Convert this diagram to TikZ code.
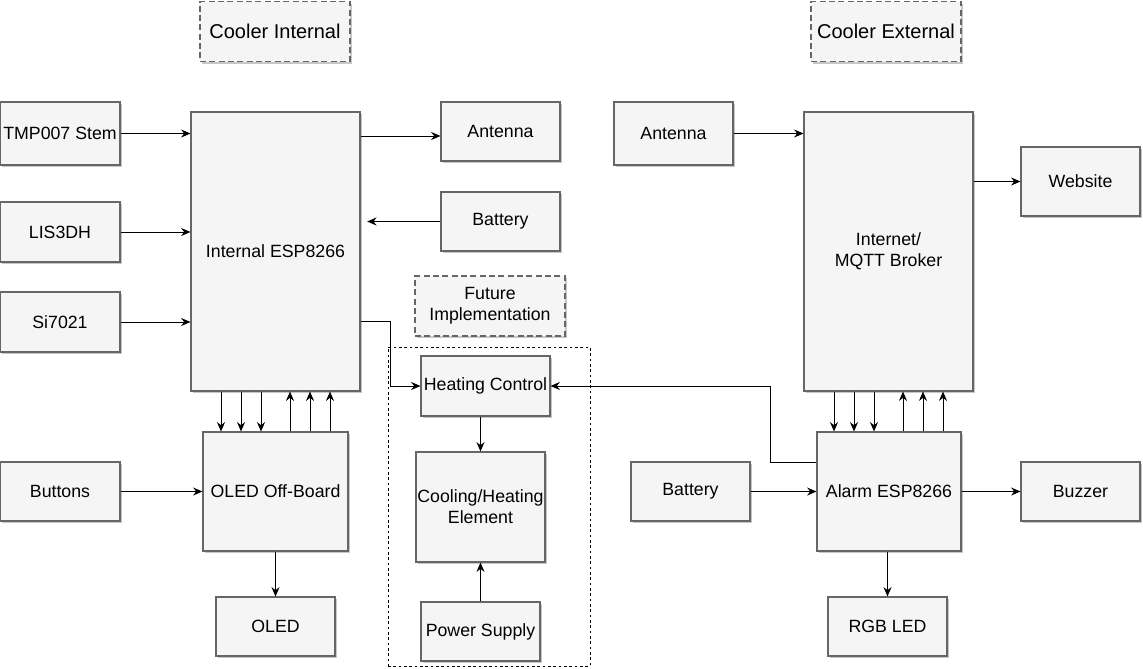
\documentclass[tikz,border=0pt]{standalone}
\usepackage{fontspec}
\setmainfont{Liberation Sans}
\usetikzlibrary{arrows.meta,shadows}

\definecolor{boxfill}{HTML}{F5F5F5}
\definecolor{boxline}{HTML}{666666}

\tikzset{
  blk/.style 2 args={draw=boxline, fill=boxfill, line width=0.8pt,
    minimum width=#1*0.75pt, minimum height=#2*0.75pt, inner sep=1pt,
    align=center, font=\fontsize{13.3}{15.8}\selectfont,
    drop shadow={shadow xshift=1.6pt, shadow yshift=-1.6pt, fill=black, opacity=0.22}},
  titlebox/.style={dash pattern=on 4.5pt off 2.5pt, line width=1.2pt},
  wire/.style={line width=0.75pt, -{Stealth[length=7pt,width=6pt]}},
  plain/.style={line width=0.75pt}
}

\begin{document}
\begin{tikzpicture}[x=0.75pt, y=-0.75pt]
  \useasboundingbox (0,0) rectangle (1143,668);

  \node[blk={150}{60}, titlebox, font=\fontsize{15}{18}\selectfont] (cint) at (275,31.5) {Cooler Internal};
  \node[blk={150}{60}, titlebox, font=\fontsize{15}{18}\selectfont] (cext) at (886,31.5) {Cooler External};

  % internal side
  \node[blk={120}{63}] (tmp) at (60,133.5) {TMP007 Stem};
  \node[blk={120}{60}] (lis) at (60,232) {LIS3DH};
  \node[blk={120}{60}] (si) at (60,322) {Si7021};
  \node[blk={169}{279}] (iesp) at (275.5,251.5) {Internal ESP8266};
  \node[blk={119}{59}] (antl) at (500.5,131.5) {Antenna};
  \node[blk={119}{59}] (batl) at (500.5,221.5) {Battery};
  \node[blk={120}{59}] (btn) at (60,491.5) {Buttons};
  \node[blk={145}{119}] (oledob) at (275.5,491.5) {OLED Off-Board};
  \node[blk={119}{59}] (oled) at (275.5,626.5) {OLED};

  % future part
  \node[blk={150}{60}, titlebox] (fut) at (490,306) {Future\\Implementation};
  \node[draw=black, line width=0.75pt, dash pattern=on 2pt off 2pt,
    minimum width=202*0.75pt, minimum height=319*0.75pt] (cont) at (489,506.5) {};
  \node[blk={129}{60}] (heat) at (485.5,386) {Heating Control};
  \node[blk={129}{110}] (cool) at (480.5,507) {Cooling/Heating\\Element};
  \node[blk={119}{59}] (pwr) at (480.5,631.5) {Power Supply};

  % external side
  \node[blk={119}{63}] (antr) at (673.5,133.5) {Antenna};
  \node[blk={169}{279}] (inet) at (888.5,251.5) {Internet/\\MQTT Broker};
  \node[blk={119}{69}] (web) at (1080.5,181.5) {Website};
  \node[blk={119}{59}] (batr) at (690.5,491.5) {Battery};
  \node[blk={144}{119}] (aesp) at (889,491.5) {Alarm ESP8266};
  \node[blk={119}{59}] (buzz) at (1080.5,491.5) {Buzzer};
  \node[blk={119}{59}] (rgb) at (887.5,626.5) {RGB LED};

  \coordinate (ja) at (0,136);
  \coordinate (jl) at (390,321);
  \coordinate (jr) at (770,462);

  \draw[wire] (tmp.east) -- (iesp.west |- tmp.east);
  \draw[wire] (lis.east) -- (iesp.west |- lis.east);
  \draw[wire] (si.east) -- (iesp.west |- si.east);
  \draw[wire] (iesp.east |- ja) -- (antl.west |- ja);
  \draw[wire, shorten >=5pt] (batl.west) -- (iesp.east |- batl.west);
  \draw[wire] (iesp.east |- jl) -- (jl) |- (heat.west);
  \draw[wire] (btn.east) -- (oledob.west |- btn.east);
  \draw[wire] (oledob.south) -- (oled.north);

  \foreach \d in {-54.5,-34.5,-14.5} {
    \draw[wire] ([xshift=\d*0.75pt]iesp.south) -- ([xshift=\d*0.75pt]iesp.south |- oledob.north);
    \draw[wire] ([xshift=-\d*0.75pt]iesp.south |- oledob.north) -- ([xshift=-\d*0.75pt]iesp.south);
    \draw[wire] ([xshift=\d*0.75pt]inet.south) -- ([xshift=\d*0.75pt]inet.south |- aesp.north);
    \draw[wire] ([xshift=-\d*0.75pt]inet.south |- aesp.north) -- ([xshift=-\d*0.75pt]inet.south);
  }

  \draw[wire] (heat.south -| cool.north) -- (cool.north);
  \draw[wire] (pwr.north) -- (cool.south);

  \draw[wire] (antr.east) -- (inet.west |- antr.east);
  \draw[wire] (inet.east |- web.west) -- (web.west);
  \draw[wire] (batr.east) -- (aesp.west |- batr.east);
  \draw[wire] (aesp.east |- buzz.west) -- (buzz.west);
  \draw[wire] (aesp.south -| rgb.north) -- (rgb.north);
  \draw[wire] (aesp.west |- jr) -- (jr) |- (heat.east);

\end{tikzpicture}
\end{document}
